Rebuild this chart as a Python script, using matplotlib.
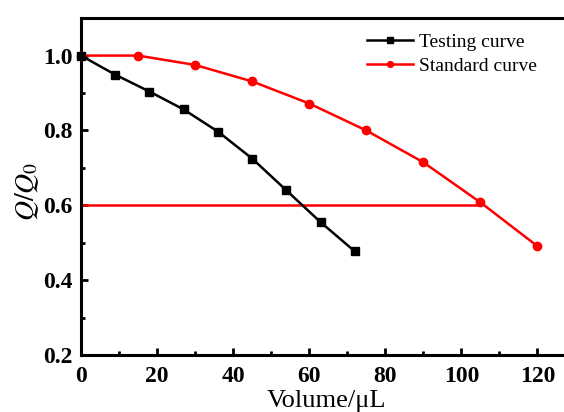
import numpy as np
import matplotlib.pyplot as plt
from matplotlib.ticker import MultipleLocator

# Testing curve
vol_test = [0, 9, 18, 27, 36, 45, 54, 63, 72]
q_test = [1.0, 0.949, 0.904, 0.856, 0.797, 0.725, 0.640, 0.555, 0.477]

# Standard curve
vol_std = [0, 15, 30, 45, 60, 75, 90, 105, 120]
q_std = [1.0, 1.0, 0.975, 0.931, 0.872, 0.800, 0.715, 0.608, 0.491]

# reference level
q_ref = 0.6
vol_ref_end = 105

plt.rcParams['font.family'] = ['Liberation Serif', 'DejaVu Serif']
plt.rcParams['mathtext.fontset'] = 'stix'

fig = plt.figure(figsize=[5.64, 4.12], dpi=100)
ax = fig.add_axes([0.1436, 0.138, 0.87, 0.818])

ax.plot(vol_test, q_test, color='black', lw=1.8, marker='s', ms=5.5, label='Testing curve', clip_on=False, zorder=4)
ax.plot(vol_std, q_std, color='red', lw=1.8, marker='o', ms=6, label='Standard curve', clip_on=False, zorder=3)
ax.plot([0, vol_ref_end], [q_ref, q_ref], color='red', lw=1.8, zorder=2)

ax.set_xlim(0, 129)
ax.set_ylim(0.2, 1.1)
ax.xaxis.set_major_locator(MultipleLocator(20))
ax.xaxis.set_minor_locator(MultipleLocator(10))
ax.yaxis.set_minor_locator(MultipleLocator(0.1))
ax.set_yticks([0.2, 0.4, 0.6, 0.8, 1.0])
ax.set_yticklabels(['0.2', '0.4', '0.6', '0.8', '1.0'])

ax.tick_params(which='both', direction='in', width=2, labelsize=17,
               top=False, right=False)
ax.tick_params(axis='y', pad=6)
ax.tick_params(axis='x', pad=8)
ax.tick_params(which='major', length=5)
ax.tick_params(which='minor', length=3)
for lab in ax.get_xticklabels() + ax.get_yticklabels():
    lab.set_fontweight('bold')

for s in ['left', 'bottom', 'top']:
    ax.spines[s].set_linewidth(2.2)
ax.spines['right'].set_visible(False)

ax.set_xlabel('Volume/μL', fontsize=19, labelpad=2)
ax.set_ylabel(r'$Q/Q_0$', fontsize=20, labelpad=0)
ax.yaxis.set_label_coords(-0.081, 0.485)

leg = ax.legend(loc='upper right', bbox_to_anchor=(0.965, 1.008), frameon=False,
                fontsize=14, handlelength=2.4, handletextpad=0.3, labelspacing=0.35,
                markerscale=0.7)

plt.savefig('out.png', dpi=100)
